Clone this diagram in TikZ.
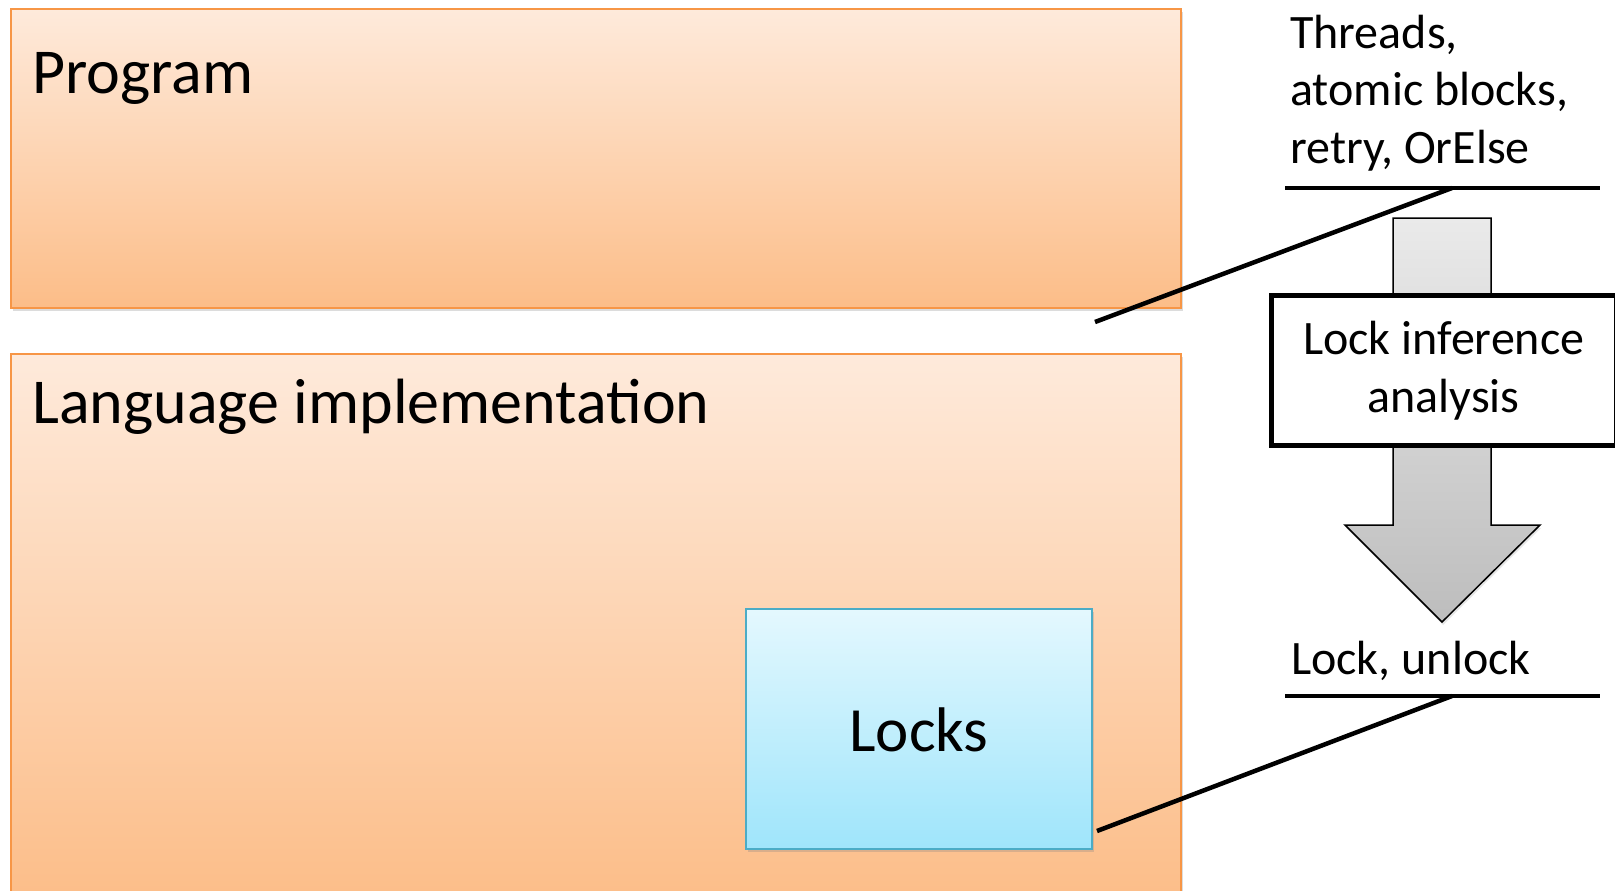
\documentclass[tikz,border=0pt]{standalone}
\usepackage{fontspec}
\setmainfont{Carlito}
\usetikzlibrary{shadows}
\definecolor{boxedge}{HTML}{F79646}
\definecolor{boxtop}{HTML}{FEEADB}
\definecolor{boxbot}{HTML}{FCBD88}
\definecolor{lockedge}{HTML}{4BACC6}
\definecolor{locktop}{HTML}{E4F8FE}
\definecolor{lockbot}{HTML}{9FE5FB}
\definecolor{arrtop}{HTML}{EAEAEA}
\definecolor{arrbot}{HTML}{BDBDBD}
\begin{document}
\begin{tikzpicture}[x=1pt,y=-1pt,
  softshadow/.style={drop shadow={opacity=0.28, shadow xshift=2pt, shadow yshift=-3pt}},
  layer/.style={rectangle, draw=boxedge, line width=1.8pt, top color=boxtop, bottom color=boxbot,
    inner sep=0pt, anchor=north west, softshadow},
  lockbox/.style={rectangle, draw=lockedge, line width=1.8pt, top color=locktop, bottom color=lockbot,
    inner sep=0pt, anchor=north west, softshadow},
  stagebox/.style={rectangle, draw=black, line width=4.5pt, fill=white, inner sep=0pt, anchor=north west,
    align=center, font=\fontsize{48}{58}\selectfont},
  title/.style={anchor=base west, inner sep=0pt, font=\fontsize{64}{77}\selectfont},
  side/.style={anchor=base west, inner sep=0pt, align=left, font=\fontsize{48}{57.5}\selectfont},
  rule/.style={line width=4.5pt},
]
\useasboundingbox (0,0) rectangle (1615,891);

% layers
\node[layer, minimum width=1170pt, minimum height=299pt] (prog) at (10,8) {};
\node[layer, minimum width=1170pt, minimum height=550pt] (impl) at (10,353) {};
\node[title] (progtitle) at (32,93) {Program};
\node[title] (impltitle) at (32,423) {Language implementation};
\node[lockbox, minimum width=346pt, minimum height=240pt] (locks) at (745,608) {};
\node[font=\fontsize{63}{75}\selectfont] (lockstext) at ([yshift=-1pt]locks.center) {Locks};

% translation arrow
\shade[top color=arrtop, bottom color=arrbot, draw=black, line width=1.5pt, line join=miter,
  drop shadow={opacity=0.2, shadow xshift=1pt, shadow yshift=-3pt}]
  (1393,218) -- (1491,218) -- (1491,525) -- (1540,525) -- (1442,622) -- (1345,525) -- (1393,525) -- cycle;
\node[stagebox, minimum width=345pt, minimum height=150pt] (analysis) at (1269,293)
  {Lock inference\\analysis};

% source constructs and their callout
\node[side] (src) at (1290,163) {Threads,\\atomic blocks,\\retry, OrElse};
\coordinate (srcL) at (1285,188);
\coordinate (srcR) at (1600,188);
\coordinate (srcK) at (1452,188);
\coordinate (progK) at (1095,322);
\draw[rule] (srcL) -- (srcR);
\draw[rule] (srcK) -- (progK);

% target constructs and their callout
\node[side] (tgt) at (1291,674) {Lock, unlock};
\coordinate (tgtL) at (1285,696);
\coordinate (tgtR) at (1600,696);
\coordinate (tgtK) at (1452,696);
\coordinate (locksK) at (1097,831);
\draw[rule] (tgtL) -- (tgtR);
\draw[rule] (tgtK) -- (locksK);
\end{tikzpicture}
\end{document}
